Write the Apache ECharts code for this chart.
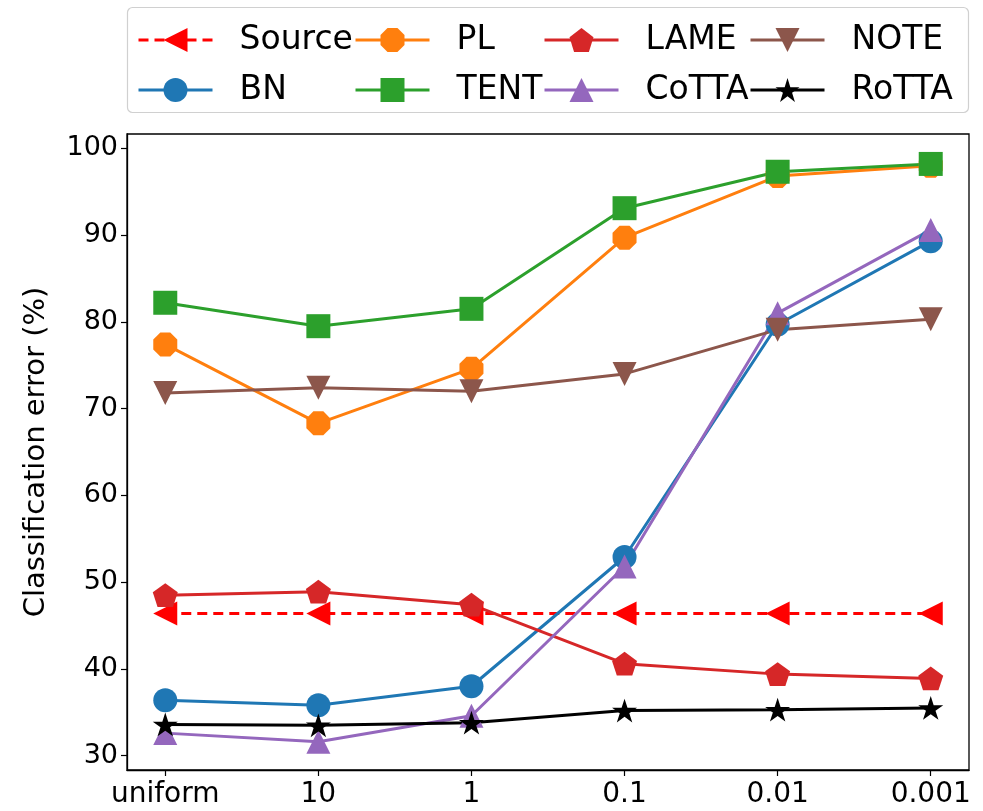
<!DOCTYPE html>
<html>
<head>
<meta charset="utf-8">
<script src="https://cdn.jsdelivr.net/npm/echarts@6/dist/echarts.min.js"></script>
<style>html,body{margin:0;padding:0;background:#fff}#c{width:983px;height:811px}</style>
</head>
<body>
<div id="c"></div>
<script>
const categories = ['uniform', '10', '1', '0.1', '0.01', '0.001'];
const yTicks = [30, 40, 50, 60, 70, 80, 90, 100];
const seriesNames = ['Source', 'BN', 'PL', 'TENT', 'LAME', 'CoTTA', 'NOTE', 'RoTTA'];
const source = [46.4, 46.4, 46.4, 46.4, 46.4, 46.4];
const bn = [36.4, 35.8, 38.0, 52.9, 79.7, 89.3];
const pl = [77.4, 68.3, 74.6, 89.7, 96.8, 98.0];
const tent = [82.2, 79.5, 81.5, 93.1, 97.3, 98.2];
const lame = [48.5, 48.9, 47.4, 40.6, 39.4, 38.9];
const cotta = [32.6, 31.6, 34.6, 51.8, 81.0, 90.6];
const note = [71.8, 72.4, 72.0, 74.0, 79.1, 80.3];
const rotta = [33.6, 33.5, 33.8, 35.2, 35.3, 35.5];

const FONT = 'DejaVu Sans';
const octagon = 'path://M0.293,0 L0.707,0 L1,0.293 L1,0.707 L0.707,1 L0.293,1 L0,0.707 L0,0.293 Z';
const pentagon = 'path://M0,-1 L0.951,-0.309 L0.588,0.809 L-0.588,0.809 L-0.951,-0.309 Z';
const star = 'path://M0,-1 L0.2245,-0.309 L0.951,-0.309 L0.3633,0.118 L0.5878,0.809 L0,0.382 L-0.5878,0.809 L-0.3633,0.118 L-0.951,-0.309 L-0.2245,-0.309 Z';

const styles = {
  Source: {color: '#ff0000', symbol: 'triangle', rot: 90, size: 24, dash: 'dashed', data: source},
  BN: {color: '#1f77b4', symbol: 'circle', rot: 0, size: 24, dash: 'solid', data: bn},
  PL: {color: '#ff7f0e', symbol: octagon, rot: 0, size: 24, dash: 'solid', data: pl},
  TENT: {color: '#2ca02c', symbol: 'rect', rot: 0, size: 24, dash: 'solid', data: tent},
  LAME: {color: '#d62728', symbol: pentagon, rot: 0, size: 25, dash: 'solid', data: lame},
  CoTTA: {color: '#9467bd', symbol: 'triangle', rot: 0, size: 24, dash: 'solid', data: cotta},
  NOTE: {color: '#8c564b', symbol: 'triangle', rot: 180, size: 24, dash: 'solid', data: note},
  RoTTA: {color: '#000000', symbol: star, rot: 0, size: 25, dash: 'solid', data: rotta}
};

const series = seriesNames.map(n => {
  const s = styles[n];
  return {
    name: n, type: 'line',
    data: s.data.map((v, i) => [i, v]),
    symbol: s.symbol, symbolSize: s.size, symbolRotate: s.rot, symbolKeepAspect: true,
    itemStyle: {color: s.color},
    lineStyle: {color: s.color, width: 3, type: s.dash === 'dashed' ? [10, 6] : 'solid'},
    emphasis: {disabled: true},
    animation: false
  };
});

// legend layout: column-major, 4 columns x 2 rows
const colX = [137, 354, 543, 749];
const rowY = [40, 90];
const legends = seriesNames.map((n, k) => ({
  data: [n],
  left: colX[Math.floor(k / 2)],
  top: rowY[k % 2] - 18,
  padding: 0,
  itemWidth: 74,
  itemHeight: 30,
  selectedMode: false,
  lineStyle: {width: 3},
  textStyle: {fontFamily: FONT, fontSize: 33, color: '#000', padding: [0, 0, 0, 22], lineHeight: 36}
}));

const chart = echarts.init(document.getElementById('c'), null, {renderer: 'canvas'});
chart.setOption({
  backgroundColor: '#fff',
  animation: false,
  legend: legends,
  graphic: [{
    type: 'rect', shape: {x: 127.5, y: 7.5, width: 841, height: 105, r: 5},
    style: {fill: 'none', stroke: '#d0d0d0', lineWidth: 1.2}, z: -1
  }],
  grid: {left: 127, right: 14, top: 134, bottom: 41, show: true, borderColor: '#000', borderWidth: 1.3, backgroundColor: 'transparent'},
  xAxis: {
    type: 'value', min: -0.25, max: 5.25,
    axisLine: {show: true, onZero: false, lineStyle: {color: '#000', width: 1.3}},
    axisTick: {show: true, length: 6, lineStyle: {color: '#000', width: 1.2}, customValues: categories.map((c, i) => i)},
    axisLabel: {fontFamily: FONT, fontSize: 28, color: '#000', margin: 11,
      customValues: categories.map((c, i) => i), formatter: v => categories[Math.round(v)]},
    splitLine: {show: false}
  },
  yAxis: {
    type: 'value', min: 28.35, max: 101.65,
    name: 'Classification error (%)', nameLocation: 'middle', nameRotate: 90, nameGap: 76,
    nameTextStyle: {fontFamily: FONT, fontSize: 29, color: '#000'},
    axisLine: {show: true, onZero: false, lineStyle: {color: '#000', width: 1.3}},
    axisTick: {show: true, length: 6, lineStyle: {color: '#000', width: 1.2}, customValues: yTicks},
    axisLabel: {fontFamily: FONT, fontSize: 27, color: '#000', margin: 9, customValues: yTicks},
    splitLine: {show: false}
  },
  series: series
});
</script>
</body>
</html>
